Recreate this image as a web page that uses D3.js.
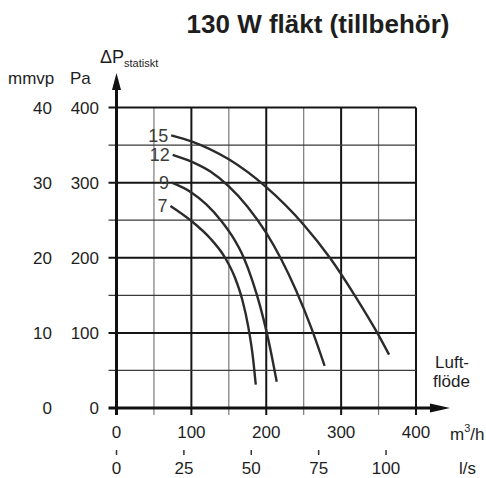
<!DOCTYPE html>
<html>
<head>
<meta charset="utf-8">
<script src="https://cdn.jsdelivr.net/npm/d3@7"></script>
<style>
  body { margin: 0; background: #fff; }
  text { font-family: "Liberation Sans", Arial, sans-serif; fill: #1e1e1e; }
</style>
</head>
<body>
<svg id="chart"></svg>
<script>
// fan curves, [flow m3/h, static pressure Pa]
const curve7 = [[72, 269], [100, 249], [125, 226], [145, 200], [158, 174], [168, 144], [176, 108], [182, 69], [186, 31]];
const curve9 = [[74, 300], [100, 287], [120, 271], [140, 249], [155, 228], [170, 200], [182, 168], [192, 135], [201, 99], [208, 66], [214, 35]];
const curve12 = [[75, 337], [100, 328], [125, 315], [150, 295], [175, 268], [200, 233], [220, 198], [240, 156], [260, 107], [278, 56]];
const curve15 = [[73, 363], [100, 355], [150, 331], [200, 294], [250, 244], [285, 200], [320, 147], [350, 97], [364, 71]];
const curveNames = ["7", "9", "12", "15"];

const flowTicks = [0, 100, 200, 300, 400];   // m3/h
const lsTicks = [0, 25, 50, 75, 100];        // l/s
const paTicks = [0, 100, 200, 300, 400];     // Pa
const mmvpTicks = [0, 10, 20, 30, 40];       // mmvp

class FanChart {
    constructor(svg, width = 486, height = 478) {
        this.svg = svg;
        this.width = width;
        this.height = height;
    }

    initialize() {
        this.svg = d3.select(this.svg)
            .attr("width", this.width)
            .attr("height", this.height);
        this.x = d3.scaleLinear().domain([0, 400]).range([116.5, 416]);
        this.xLs = d3.scaleLinear().domain([0, 400 / 3.6]).range(this.x.range());
        this.y = d3.scaleLinear().domain([0, 400]).range([408, 107.5]);
        this.yMm = d3.scaleLinear().domain([0, 40]).range(this.y.range());
    }

    draw() {
        const x = this.x, y = this.y;
        const svg = this.svg;
        const x0 = x(0), y0 = y(0);

        svg.append("text")
            .attr("x", 318).attr("y", 33)
            .attr("text-anchor", "middle")
            .style("font-size", "26px").style("font-weight", "bold")
            .text("130 W fläkt (tillbehör)");

        // grid
        const grid = svg.append("g");
        const steps = d3.range(50, 401, 50);
        grid.selectAll("line.v")
            .data(steps)
            .join("line")
            .attr("x1", d => x(d)).attr("x2", d => x(d))
            .attr("y1", y(400)).attr("y2", y0 + 7)
            .attr("stroke", d => d % 100 ? "#7a7a7a" : "#151515")
            .attr("stroke-width", d => d % 100 ? 1.2 : 2);
        grid.selectAll("line.h")
            .data(steps)
            .join("line")
            .attr("x1", x0 - 8).attr("x2", x(400))
            .attr("y1", d => y(d)).attr("y2", d => y(d))
            .attr("stroke", d => d % 100 ? "#3a3a3a" : "#151515")
            .attr("stroke-width", d => d % 100 ? 1.2 : 2);

        // axes with arrows
        svg.append("line")
            .attr("x1", x0).attr("x2", x0)
            .attr("y1", y0 + 7).attr("y2", 88)
            .attr("stroke", "#111").attr("stroke-width", 3);
        svg.append("path")
            .attr("d", `M${x0 - 4.5},90L${x0 + 4.5},90L${x0},73Z`)
            .attr("fill", "#111");
        svg.append("line")
            .attr("x1", x0 - 8).attr("x2", 432)
            .attr("y1", y0).attr("y2", y0)
            .attr("stroke", "#111").attr("stroke-width", 3);
        svg.append("path")
            .attr("d", `M430,${y0 - 4.5}L430,${y0 + 4.5}L450,${y0}Z`)
            .attr("fill", "#111");

        // y tick labels
        const fs = "17px";
        svg.append("g").selectAll("text")
            .data(paTicks)
            .join("text")
            .attr("x", 99).attr("y", d => y(d)).attr("dy", "0.36em")
            .attr("text-anchor", "end").style("font-size", fs)
            .text(d => d);
        svg.append("g").selectAll("text")
            .data(mmvpTicks)
            .join("text")
            .attr("x", 52).attr("y", d => this.yMm(d)).attr("dy", "0.36em")
            .attr("text-anchor", "end").style("font-size", fs)
            .text(d => d);
        svg.append("text").attr("x", 8).attr("y", 84).style("font-size", fs).text("mmvp");
        svg.append("text").attr("x", 70).attr("y", 84).style("font-size", fs).text("Pa");

        const dp = svg.append("text").attr("x", 100).attr("y", 63).style("font-size", "18px");
        dp.append("tspan").text("ΔP");
        dp.append("tspan").attr("dy", 4).style("font-size", "11px").text("statiskt");

        // x tick labels
        svg.append("g").selectAll("text")
            .data(flowTicks)
            .join("text")
            .attr("x", d => x(d)).attr("y", 438)
            .attr("text-anchor", "middle").style("font-size", fs)
            .text(d => d);
        svg.append("g").selectAll("line")
            .data(lsTicks)
            .join("line")
            .attr("x1", d => this.xLs(d)).attr("x2", d => this.xLs(d))
            .attr("y1", 450).attr("y2", 455)
            .attr("stroke", "#333").attr("stroke-width", 1.5);
        svg.append("g").selectAll("text")
            .data(lsTicks)
            .join("text")
            .attr("x", d => this.xLs(d)).attr("y", 474)
            .attr("text-anchor", "middle").style("font-size", fs)
            .text(d => d);

        const unit = svg.append("text").attr("x", 450).attr("y", 440).style("font-size", fs);
        unit.append("tspan").text("m");
        unit.append("tspan").attr("dy", -8).style("font-size", "11px").text("3");
        unit.append("tspan").attr("dy", 8).text("/h");
        svg.append("text").attr("x", 459).attr("y", 474).style("font-size", fs).text("l/s");
        svg.append("text").attr("x", 435).attr("y", 368).style("font-size", fs).text("Luft-");
        svg.append("text").attr("x", 433).attr("y", 387).style("font-size", fs).text("flöde");

        // curves
        const curves = [curve7, curve9, curve12, curve15];
        const line = d3.line()
            .x(d => x(d[0]))
            .y(d => y(d[1]))
            .curve(d3.curveMonotoneX);
        const g = svg.append("g");
        g.selectAll("path")
            .data(curves)
            .join("path")
            .attr("d", line)
            .attr("fill", "none")
            .attr("stroke", "#2b2b2b")
            .attr("stroke-width", 2.4);
        g.selectAll("text")
            .data(curves)
            .join("text")
            .attr("x", d => x(d[0][0]) - 3)
            .attr("y", d => y(d[0][1]))
            .attr("dy", "0.36em")
            .attr("text-anchor", "end")
            .style("font-size", "18px")
            .style("fill", "#3c3c3c")
            .text((d, i) => curveNames[i]);
    }
}

const chart = new FanChart("#chart");
chart.initialize();
chart.draw();
</script>
</body>
</html>
